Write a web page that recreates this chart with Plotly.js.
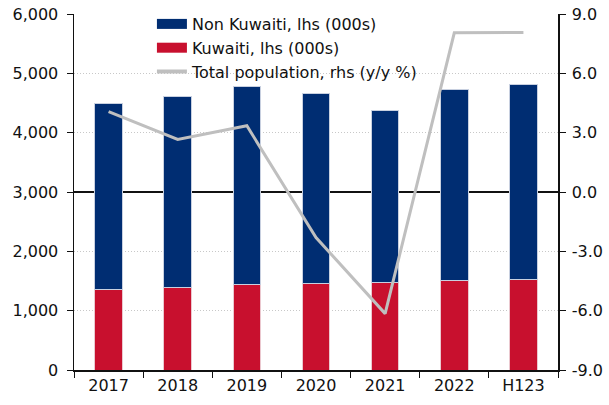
<!DOCTYPE html>
<html>
<head>
<meta charset="utf-8">
<script src="https://cdn.plot.ly/plotly-3.0.1.min.js"></script>
<style>html,body{margin:0;padding:0;background:#fff}#chart{width:609px;height:405px}</style>
</head>
<body>
<div id="chart"></div>
<script>
var categories = ["2017", "2018", "2019", "2020", "2021", "2022", "H123"];
var kuwaiti = [1360, 1394, 1433, 1450, 1478, 1512, 1522];
var nonKuwaiti = [3134, 3224, 3337, 3213, 2904, 3218, 3298];
var totalGrowth = [4.06, 2.66, 3.35, -2.3, -6.15, 8.05, 8.07];

var seriesNames = ["Non Kuwaiti, lhs (000s)", "Kuwaiti, lhs (000s)", "Total population, rhs (y/y %)"];
var rhsTickVals = [-9, -6, -3, 0, 3, 6, 9];
var rhsTickText = ["-9.0", "-6.0", "-3.0", "0.0", "3.0", "6.0", "9.0"];
var colors = {non: "#002D72", kuw: "#C8102E", total: "#BFBFBF"};

var font = "DejaVu Sans, Verdana, sans-serif";
var plotTop = 1 - 14 / 370;

var traces = [
  {type: "bar", name: seriesNames[1], x: categories, y: kuwaiti, showlegend: false,
   marker: {color: colors.kuw, line: {color: "#EBC8CF", width: 1}}},
  {type: "bar", name: seriesNames[0], x: categories, y: nonKuwaiti, showlegend: false,
   marker: {color: colors.non, line: {color: "#C8D0E0", width: 1}}},
  {type: "scatter", mode: "lines", name: seriesNames[2], x: categories, y: totalGrowth,
   yaxis: "y2", line: {color: colors.total, width: 3}, showlegend: false},
  // legend-only entries (wide rectangular swatches like the reference)
  {type: "scatter", mode: "lines", name: seriesNames[0], x: [null], y: [null],
   line: {color: colors.non, width: 10}, legendrank: 1, hoverinfo: "skip"},
  {type: "scatter", mode: "lines", name: seriesNames[1], x: [null], y: [null],
   line: {color: colors.kuw, width: 10}, legendrank: 2, hoverinfo: "skip"},
  {type: "scatter", mode: "lines", name: seriesNames[2], x: [null], y: [null], yaxis: "y2",
   line: {color: colors.total, width: 4}, legendrank: 3, hoverinfo: "skip"}
];

var layout = {
  width: 609, height: 405,
  margin: {l: 74, r: 51, t: 0, b: 35},
  paper_bgcolor: "#fff", plot_bgcolor: "#fff",
  font: {family: font, size: 16, color: "#111"},
  barmode: "stack", bargap: 0.6,
  showlegend: true,
  legend: {x: 0.161, y: 1 - 7 / 370, xanchor: "left", yanchor: "top",
           bgcolor: "rgba(0,0,0,0)",
           traceorder: "normal", font: {family: font, size: 16, color: "#111"},
           tracegroupgap: 0, itemwidth: 30},
  xaxis: {type: "category", showline: true, linecolor: "#111", linewidth: 1.5,
          ticks: "outside", tickson: "boundaries", ticklen: 6, tickcolor: "#111",
          showgrid: false, tickfont: {size: 16}},
  yaxis: {domain: [0, plotTop], range: [0, 6000], dtick: 1000, tickformat: ",d",
          showline: true, linecolor: "#111", linewidth: 1.5,
          ticks: "outside", ticklen: 6, tickcolor: "#111", ticklabelstandoff: 5,
          showgrid: true, gridcolor: "#C8C8C8", griddash: "1px,2px", gridwidth: 1,
          zeroline: false, tickfont: {size: 16}},
  yaxis2: {overlaying: "y", side: "right", range: [-9, 9], tickmode: "array",
           tickvals: rhsTickVals, ticktext: rhsTickText,
           showline: true, linecolor: "#111", linewidth: 1.5,
           ticks: "outside", ticklen: 6, tickcolor: "#111", ticklabelstandoff: 3, showgrid: false,
           zeroline: true, zerolinecolor: "#111", zerolinewidth: 1.5, tickfont: {size: 16}}
};

Plotly.newPlot("chart", traces, layout, {displayModeBar: false, staticPlot: true});
</script>
</body>
</html>
